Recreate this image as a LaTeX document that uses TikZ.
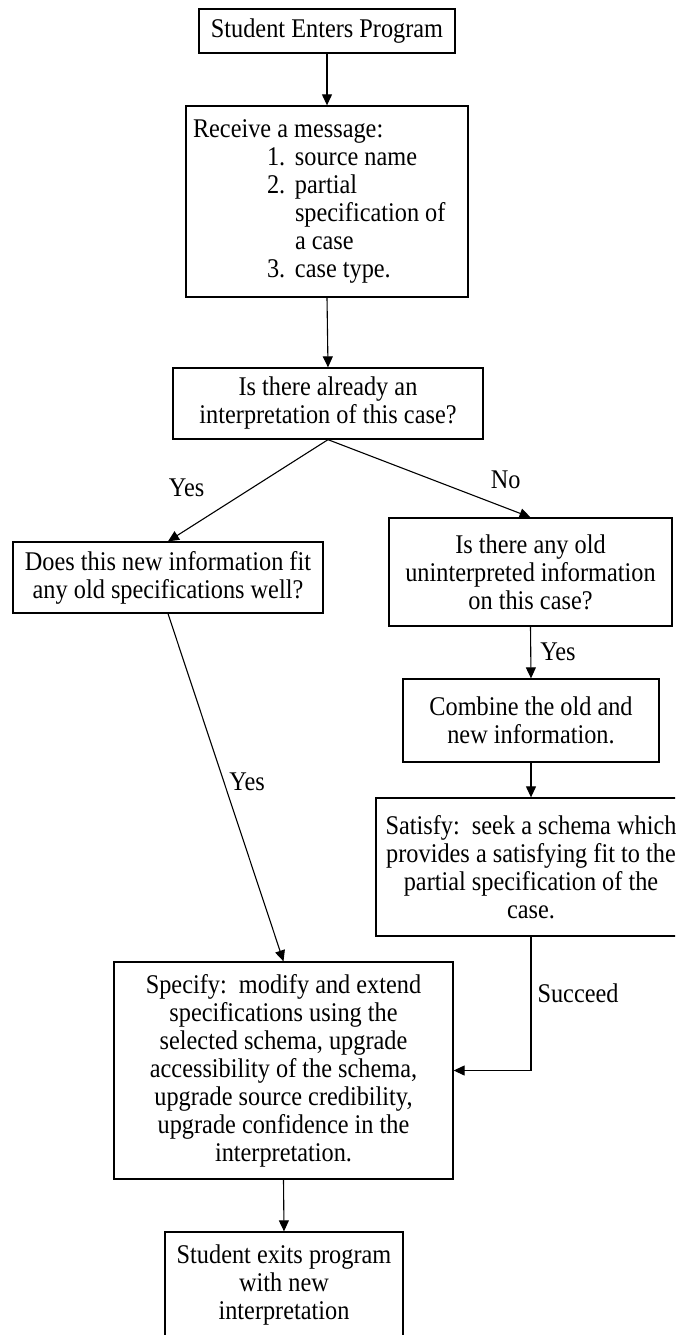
\documentclass[tikz,border=0pt]{standalone}
\usepackage{fontspec}
\setmainfont[FakeStretch=0.9]{Liberation Serif}
\usetikzlibrary{arrows.meta}

\begin{document}
\begin{tikzpicture}[x=1pt,y=-1pt,
        procbox/.style={draw, line width=1.3pt, align=center, inner sep=0pt},
        flow/.style={line width=1.1pt, -{Triangle[length=11pt,width=10pt]}},
        edgelbl/.style={inner sep=0pt},
        every node/.style={font=\fontsize{27}{28}\selectfont}]
    \useasboundingbox (0,0) rectangle (675,1335);
    \clip (0,0) rectangle (675,1335);
    \fill[white] (0,0) rectangle (675,1335);

    % main column
    \node[procbox, minimum width=256, minimum height=44] (enter) at (327,31) {Student Enters Program};
    \node[procbox, align=flush left, text width=268, minimum width=282, minimum height=191] (receive) at (327,201.5)
        {Receive a message:\\
         \hspace*{74pt}\makebox[28pt][l]{1.}source name\\
         \hspace*{74pt}\makebox[28pt][l]{2.}partial\\
         \hspace*{102pt}specification of\\
         \hspace*{102pt}a case\\
         \hspace*{74pt}\makebox[28pt][l]{3.}case type.};
    \node[procbox, minimum width=310, minimum height=71] (interp) at (328,403.5)
        {Is there already an\\ interpretation of this case?};

    % left branch
    \node[procbox, minimum width=310, minimum height=71] (fit) at (168,577.5)
        {Does this new information fit\\ any old specifications well?};

    % right branch
    \node[procbox, minimum width=283, minimum height=108] (olddata) at (530.5,572)
        {Is there any old\\ uninterpreted information\\ on this case?};
    \node[procbox, minimum width=256, minimum height=83] (combine) at (531,720.5)
        {Combine the old and\\ new information.};
    \node[procbox, minimum width=310, minimum height=138] (satisfy) at (531,867)
        {Satisfy:\ \ seek a schema which\\ provides a satisfying fit to the\\ partial specification of the\\ case.};

    % end
    \node[procbox, minimum width=339, minimum height=217] (specify) at (283.5,1070.5)
        {Specify:\ \ modify and extend\\ specifications using the\\ selected schema, upgrade\\
         accessibility of the schema,\\ upgrade source credibility,\\ upgrade confidence in the\\ interpretation.};
    \node[procbox, minimum width=238, minimum height=106] (leave) at (284,1285)
        {Student exits program\\ with new\\ interpretation};

    \draw[flow] (enter.south) -- (receive.north);
    \draw[flow] (receive.south) -- (interp.north);
    \draw[flow] (interp.south) -- (fit.north) node[edgelbl, pos=0.47, left=48] {Yes};
    \draw[flow] (interp.south) -- (olddata.north) node[edgelbl, pos=0.52, right=57] {No};
    \draw[flow] (fit.south) -- (specify.north) node[edgelbl, pos=0.484, right=5] {Yes};
    \draw[flow] (olddata.south) -- (combine.north) node[edgelbl, pos=0.49, right=9] {Yes};
    \draw[flow] (combine.south) -- (satisfy.north);
    \draw[flow] (satisfy.south) |- (specify.east) node[edgelbl, pos=0.21, right=6] {Succeed};
    \draw[flow] (specify.south) -- (leave.north);
\end{tikzpicture}
\end{document}
